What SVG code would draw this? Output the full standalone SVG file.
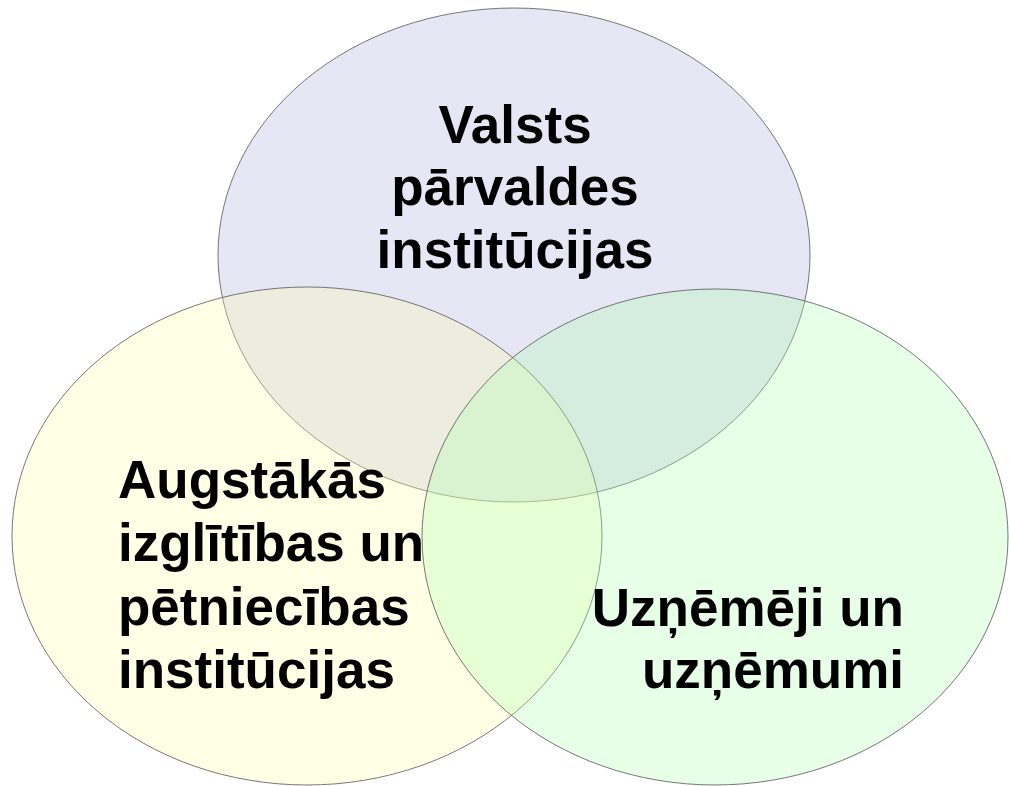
<svg xmlns="http://www.w3.org/2000/svg" width="1009" height="786" viewBox="0 0 1009 786">
<style>
.c{stroke:#555;stroke-width:0.8;fill-opacity:0.3}
.t{font-family:"Liberation Sans",Arial,sans-serif;font-weight:bold;font-size:53px;fill:#000}
</style>
<rect width="1009" height="786" fill="#fff"/>
<g id="gov"><ellipse class="c" cx="514" cy="255" rx="296" ry="247" fill="#ABABDE"/></g>
<g id="edu"><ellipse class="c" cx="307" cy="536" rx="295" ry="249" fill="#FFFFAB"/></g>
<g id="biz"><ellipse class="c" cx="715" cy="537" rx="293" ry="248" fill="#ABFFAB"/></g>
<g id="labels">
<text class="t" text-anchor="middle" x="515"><tspan x="515" y="143">Valsts</tspan><tspan x="515" y="205">pārvaldes</tspan><tspan x="515" y="268">institūcijas</tspan></text>
<text class="t" x="118"><tspan x="118" y="498">Augstākās</tspan><tspan x="118" y="561">izglītības un</tspan><tspan x="118" y="625">pētniecības</tspan><tspan x="118" y="688">institūcijas</tspan></text>
<text class="t" text-anchor="end"><tspan x="904" y="626">Uzņēmēji un</tspan><tspan x="904" y="688">uzņēmumi</tspan></text>
</g>
<g id="connectors"/>
</svg>
